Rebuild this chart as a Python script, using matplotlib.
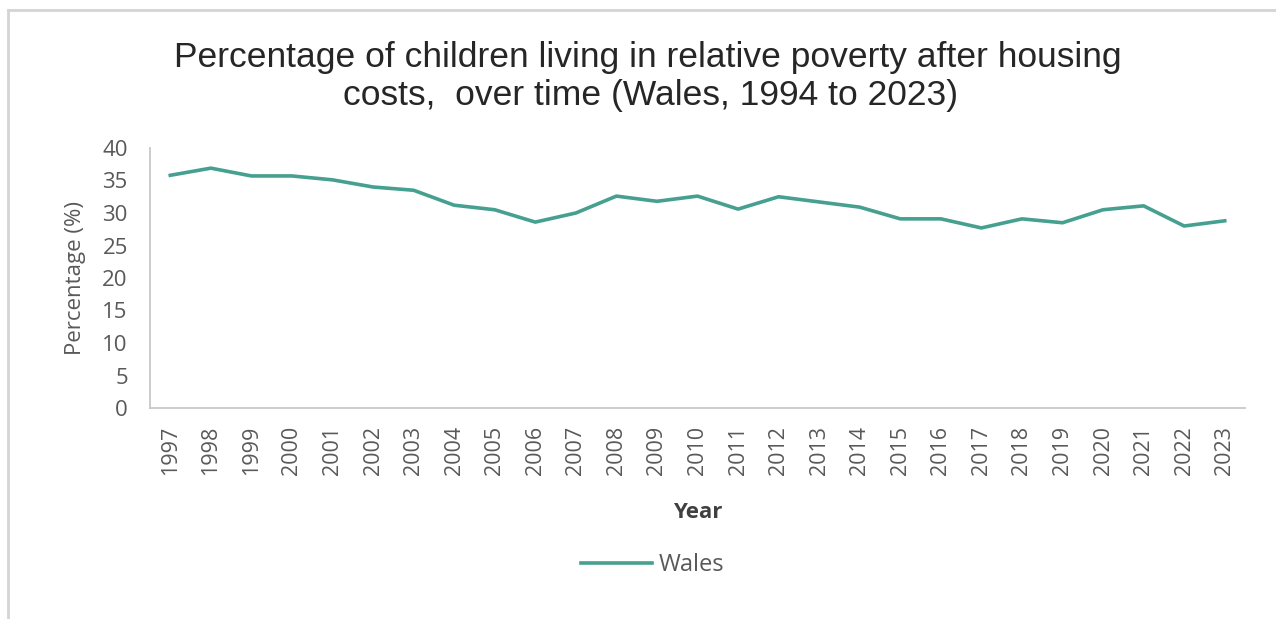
import matplotlib
matplotlib.use("Agg")
import matplotlib.pyplot as plt
from matplotlib.lines import Line2D

years = [str(y) for y in range(1997, 2024)]
wales = [35.8, 36.9, 35.7, 35.7, 35.1, 34.0, 33.5, 31.2, 30.5, 28.6,
         30.0, 32.6, 31.8, 32.6, 30.6, 32.5, 31.7, 30.9, 29.1, 29.1,
         27.7, 29.1, 28.5, 30.5, 31.1, 28.0, 28.8]
yticks = [0, 5, 10, 15, 20, 25, 30, 35, 40]

plt.rcParams["font.family"] = ["Open Sans", "DejaVu Sans"]
grey = "#595959"
teal = "#45a08f"

fig = plt.figure(figsize=(12.76, 6.19), dpi=100)
fig.patch.set_facecolor("white")

# thin frame along the top and left edges
fig.add_artist(Line2D([8 / 1276, 1.0], [1 - 10 / 619, 1 - 10 / 619],
                      transform=fig.transFigure, color="#d4d4d4", lw=2))
fig.add_artist(Line2D([8 / 1276, 8 / 1276], [0.0, 1 - 10 / 619],
                      transform=fig.transFigure, color="#d4d4d4", lw=2))

ax = fig.add_axes([150 / 1276, (619 - 408) / 619, (1245 - 150) / 1276, 260 / 619])
x = list(range(len(years)))
ax.plot(x, wales, color=teal, lw=2.6, label="Wales", solid_joinstyle="round")

ax.set_xlim(-0.5, len(years) - 0.5)
ax.set_ylim(0, 40)
ax.set_yticks(yticks)
ax.set_yticklabels([str(v) for v in yticks], fontsize=16, color=grey)
ax.set_xticks(x)
ax.set_xticklabels(years, rotation=90, fontsize=15.5, color=grey)
ax.tick_params(axis="both", length=0)
ax.tick_params(axis="y", pad=16)
ax.tick_params(axis="x", pad=13)

for side in ["top", "right"]:
    ax.spines[side].set_visible(False)
for side in ["left", "bottom"]:
    ax.spines[side].set_color("#c8c8c8")
    ax.spines[side].set_linewidth(1.3)

ax.set_ylabel("Percentage (%)", fontsize=16, color=grey, labelpad=12)
ax.set_xlabel("Year", fontsize=16, fontweight="bold", color="#404040", labelpad=19)

title_kw = dict(ha="center", va="center", fontsize=25.5, color="#262626",
                family="Liberation Sans")
fig.text(0.508, 1 - 57 / 619,
         "Percentage of children living in relative poverty after housing", **title_kw)
fig.text(0.51, 1 - 95 / 619, "costs,  over time (Wales, 1994 to 2023)", **title_kw)

leg = fig.legend(handles=[Line2D([], [], color=teal, lw=2.6)], labels=["Wales"],
                 loc="center", bbox_to_anchor=(653 / 1276, 1 - 565 / 619),
                 frameon=False, fontsize=17, handlelength=3.0, handletextpad=0.3)
for t in leg.get_texts():
    t.set_color(grey)

fig.savefig("out.png", dpi=100, facecolor="white")
